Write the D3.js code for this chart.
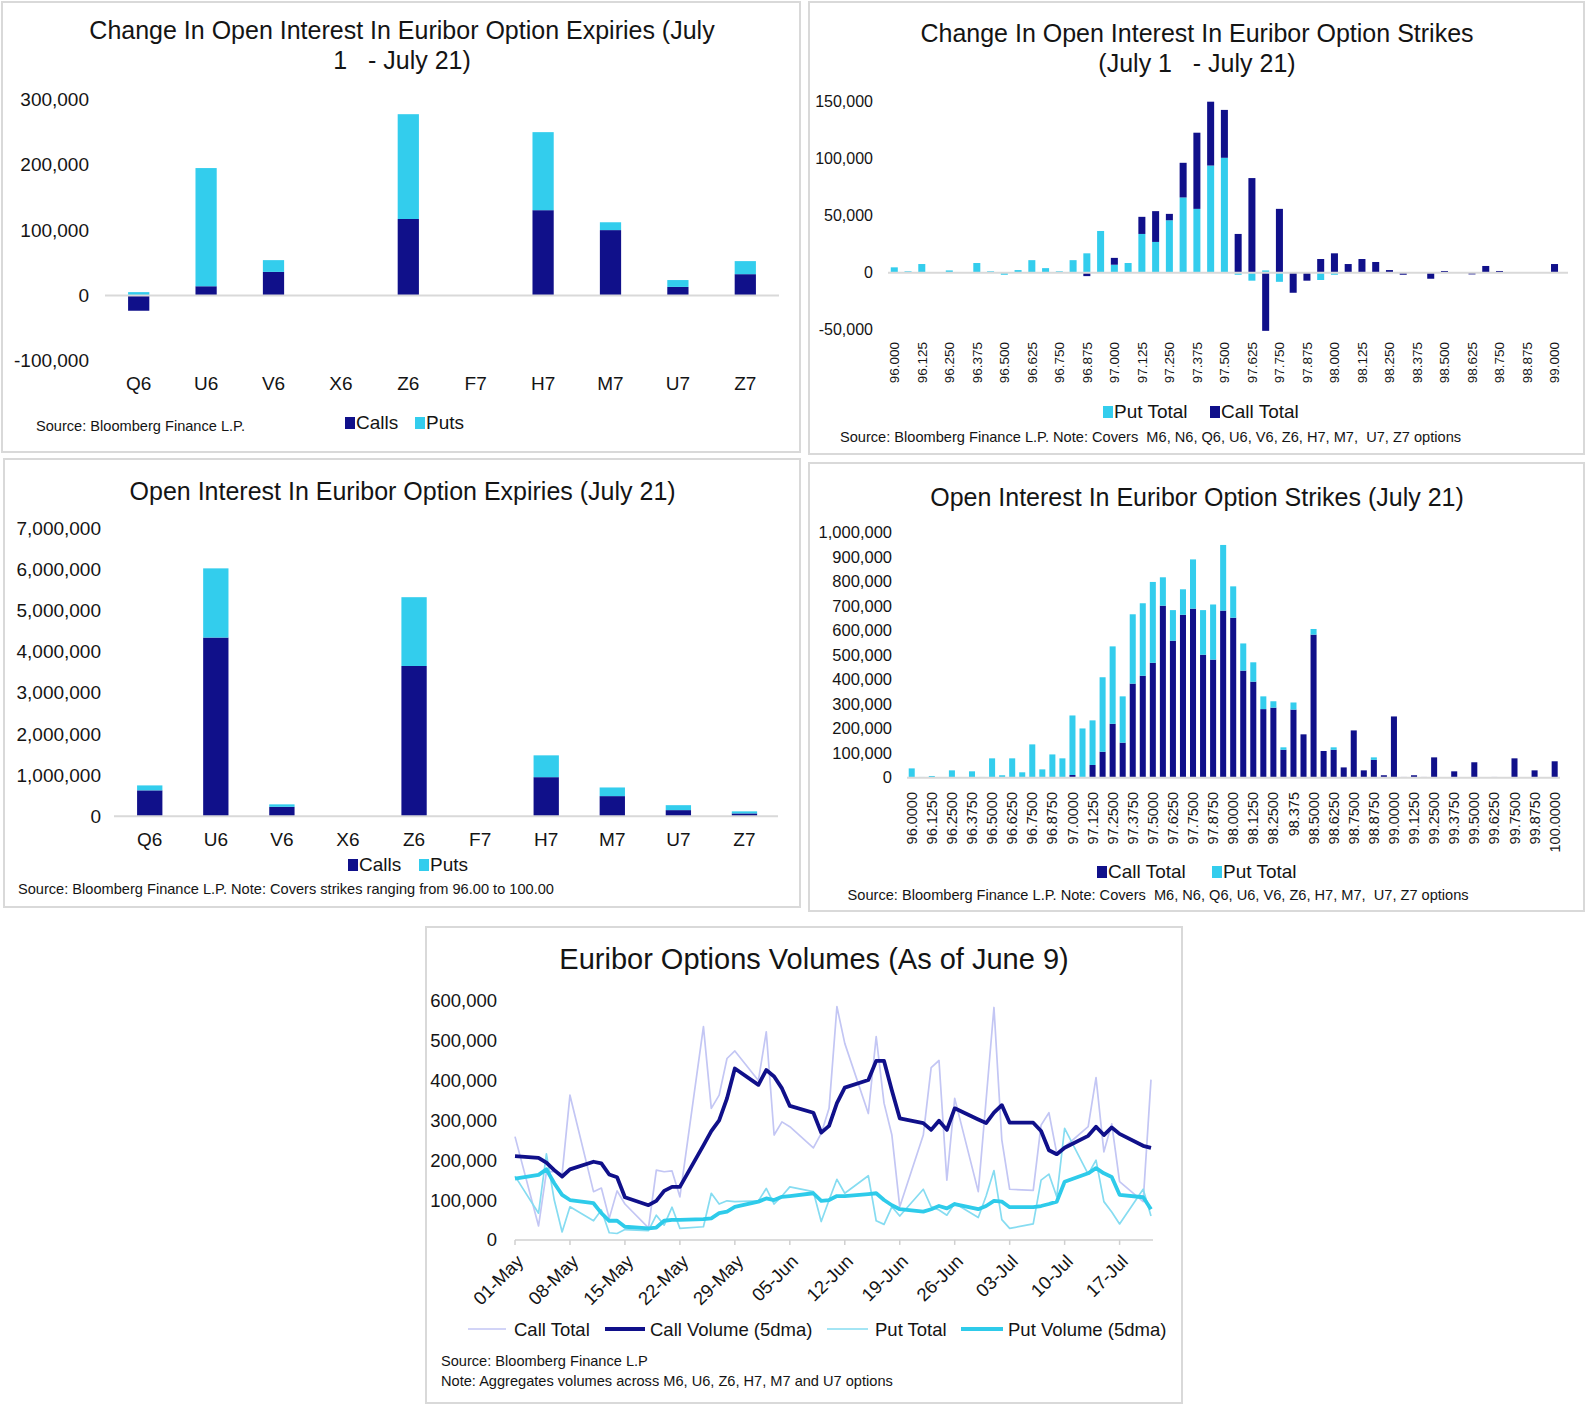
<!DOCTYPE html>
<html>
<head>
<meta charset="utf-8">
<script src="https://cdn.jsdelivr.net/npm/d3@7"></script>
<style>
  body { margin: 0; background: #fff; }
  svg { display: block; }
  text { font-family: "Liberation Sans", Arial, sans-serif; fill: #141414; white-space: pre; }
</style>
</head>
<body>
<svg width="1586" height="1404"></svg>
<script>
// ---- change in OI by expiry (Jul 1 - Jul 21)
var expiries = ['Q6', 'U6', 'V6', 'X6', 'Z6', 'F7', 'H7', 'M7', 'U7', 'Z7'];
var chgCalls = [-23500, 14000, 36000, 0, 117000, 0, 130500, 100000, 13000, 32500];
var chgPuts = [5000, 181000, 18000, 0, 160500, 0, 119500, 12000, 10500, 20000];
var chgTicks = [-100000, 0, 100000, 200000, 300000];

// ---- change in OI by strike (Jul 1 - Jul 21), strikes 96.0000 .. 99.0000 every 0.0625
var chgStrikes = d3.range(49).map(function (i) { return (96 + i * 0.0625).toFixed(4); });
var chgStrikePut = [4700, 1200, 7600, 0, 2000, 0, 8500, 1200, -1800, 2300, 11000, 4000, 1200, 11000, 17000,
  36600, 7000, 8500, 34000, 27000, 46000, 66000, 56000, 94000, 100800, -1800, -7000, 2000, -8000, 0, 0,
  -6400, -1800, 0, 0, 0, 0, 0, 0, 0, 0, 0, 0, 0, 0, 0, 0, 0, 0];
var chgStrikeCall = [0, 0, 0, 0, 0, 0, 0, 0, 0, 0, 0, 0, 0, 0, -3000, 0, 6000, 0, 15000, 27000, 5600, 30400,
  66800, 56000, 42000, 34000, 83000, -51000, 56000, -17600, -7000, 12000, 17000, 7600, 12000, 9400, 2300,
  -1800, 0, -5300, 1500, 0, -1500, 5900, 1500, 0, 0, 0, 7600];
var chgStrikeTicks = [-50000, 0, 50000, 100000, 150000];
var chgStrikeLabels = ['96.000', '96.125', '96.250', '96.375', '96.500', '96.625', '96.750', '96.875',
  '97.000', '97.125', '97.250', '97.375', '97.500', '97.625', '97.750', '97.875', '98.000', '98.125',
  '98.250', '98.375', '98.500', '98.625', '98.750', '98.875', '99.000'];

// ---- OI by expiry (Jul 21)
var oiCalls = [630000, 4340000, 230000, 0, 3650000, 0, 950000, 490000, 150000, 70000];
var oiPuts = [120000, 1680000, 60000, 0, 1670000, 0, 530000, 210000, 120000, 50000];
var oiTicks = [0, 1000000, 2000000, 3000000, 4000000, 5000000, 6000000, 7000000];

// ---- OI by strike (Jul 21), strikes 96.0000 .. 100.0000 every 0.0625
var oiStrikes = d3.range(65).map(function (i) { return (96 + i * 0.0625).toFixed(4); });
var oiStrikeCall = [0, 0, 0, 0, 0, 0, 0, 0, 0, 0, 0, 0, 0, 0, 0, 0, 11000, 3000, 52000, 106000, 220000,
  143000, 384000, 416000, 469000, 702000, 559000, 665000, 690000, 502000, 482000, 682000, 653000, 437000,
  392000, 280000, 286000, 114000, 278000, 177000, 584000, 109000, 114000, 42000, 193000, 30000, 73000,
  10000, 250000, 3000, 10000, 3000, 83000, 0, 26000, 0, 63000, 0, 3000, 0, 79000, 0, 30000, 0, 67000];
var oiStrikePut = [38000, 3000, 7000, 0, 30000, 0, 26000, 3000, 79000, 10000, 79000, 22000, 136000, 34000,
  95000, 79000, 243000, 198000, 182000, 304000, 316000, 189000, 283000, 296000, 330000, 116000, 125000,
  104000, 201000, 182000, 225000, 268000, 128000, 111000, 79000, 52000, 26000, 10000, 29000, 0, 23000, 0,
  10000, 0, 0, 0, 10000, 0, 0, 0, 0, 0, 0, 0, 0, 0, 0, 0, 0, 0, 0, 0, 0, 0, 0];
var oiStrikeTicks = d3.range(0, 1000001, 100000);
var oiStrikeLabels = ['96.0000', '96.1250', '96.2500', '96.3750', '96.5000', '96.6250', '96.7500', '96.8750',
  '97.0000', '97.1250', '97.2500', '97.3750', '97.5000', '97.6250', '97.7500', '97.8750', '98.0000',
  '98.1250', '98.2500', '98.375', '98.5000', '98.6250', '98.7500', '98.8750', '99.0000', '99.1250',
  '99.2500', '99.3750', '99.5000', '99.6250', '99.7500', '99.8750', '100.0000'];

// ---- daily option volumes (thousands)
var volDates = ['2026-05-01', '2026-05-04', '2026-05-05', '2026-05-06', '2026-05-07', '2026-05-08',
  '2026-05-11', '2026-05-12', '2026-05-13', '2026-05-14', '2026-05-15', '2026-05-18', '2026-05-19',
  '2026-05-20', '2026-05-21', '2026-05-22', '2026-05-25', '2026-05-26', '2026-05-27', '2026-05-28',
  '2026-05-29', '2026-06-01', '2026-06-02', '2026-06-03', '2026-06-04', '2026-06-05', '2026-06-08',
  '2026-06-09', '2026-06-10', '2026-06-11', '2026-06-12', '2026-06-15', '2026-06-16', '2026-06-17',
  '2026-06-18', '2026-06-19', '2026-06-22', '2026-06-23', '2026-06-24', '2026-06-25', '2026-06-26',
  '2026-06-29', '2026-06-30', '2026-07-01', '2026-07-02', '2026-07-03', '2026-07-06', '2026-07-07',
  '2026-07-08', '2026-07-09', '2026-07-10', '2026-07-13', '2026-07-14', '2026-07-15', '2026-07-16',
  '2026-07-17', '2026-07-20', '2026-07-21'];
var callTotalK = [259, 35, 170, 172, 165, 363, 121, 130, 54, 123, 90, 30, 175, 171, 173, 108, 535, 330, 363,
  455, 474, 400, 522, 263, 296, 284, 231, 267, 330, 585, 493, 317, 510, 343, 263, 83, 263, 432, 450, 150,
  355, 121, 351, 583, 251, 127, 124, 288, 319, 217, 233, 284, 407, 221, 291, 146, 96, 402];
var callAvgK = [210, 206, 194, 175, 159, 177, 196, 192, 164, 157, 107, 87, 98, 123, 133, 133, 237, 273, 300,
  355, 430, 389, 426, 410, 380, 336, 319, 269, 286, 343, 382, 401, 449, 449, 375, 305, 293, 276, 299, 276,
  330, 302, 293, 319, 338, 294, 294, 273, 225, 215, 231, 261, 284, 263, 282, 266, 236, 231];
var putTotalK = [160, 67, 216, 100, 20, 83, 48, 75, 18, 16, 26, 23, 62, 37, 82, 29, 33, 117, 90, 98, 96, 98,
  129, 90, 110, 133, 121, 46, 100, 152, 117, 161, 48, 39, 83, 60, 127, 83, 75, 62, 92, 56, 110, 174, 51, 29,
  40, 150, 165, 108, 280, 165, 200, 96, 70, 40, 127, 60];
var putAvgK = [154, 163, 177, 142, 113, 100, 92, 67, 48, 48, 33, 29, 31, 48, 50, 50, 52, 54, 67, 71, 83, 96,
  104, 100, 108, 110, 117, 98, 100, 110, 110, 115, 117, 100, 87, 77, 71, 77, 85, 79, 90, 77, 85, 98, 96, 82,
  82, 85, 90, 96, 146, 167, 180, 167, 158, 113, 107, 77];
var volTicks = [0, 100000, 200000, 300000, 400000, 500000, 600000];

var NAVY = '#10108a', CYAN = '#33cded';
var CALL_LIGHT = '#c3c6f4', PUT_LIGHT = '#86dcf1';
var svg = d3.select('svg');
var fmt = d3.formatLocale({ decimal: '.', thousands: ',', grouping: [3], currency: ['', ''], minus: '-' }).format(',');

function frame(x, y, w, h) {
  svg.append('rect').attr('x', x).attr('y', y).attr('width', w).attr('height', h)
    .attr('fill', '#fff').attr('stroke', '#d9d9d9').attr('stroke-width', 2);
}

function title(lines, cx, y, size) {
  var t = svg.append('text').attr('text-anchor', 'middle').attr('font-size', size);
  lines.forEach(function (s, i) {
    t.append('tspan').attr('x', cx).attr('y', y + i * 30).text(s);
  });
}

function note(lines, x, y, size) {
  lines.forEach(function (s, i) {
    svg.append('text').attr('x', x).attr('y', y + i * 20).attr('font-size', size || 14.6).text(s);
  });
}

function squareLegend(items, y) {
  items.forEach(function (it) {
    svg.append('rect').attr('x', it.x).attr('y', y - 12).attr('width', 10).attr('height', 12).attr('fill', it.color);
    svg.append('text').attr('x', it.x + 11).attr('y', y).attr('font-size', 19).text(it.label);
  });
}

function barPanel(o) {
  var x = d3.scaleBand().domain(o.cats).range(o.xRange).paddingInner(o.pad).paddingOuter(o.pad / 2);
  var y = d3.scaleLinear().domain(o.yDomain).range(o.yRange);
  var rows = o.cats.map(function (c, i) {
    var r = { cat: c };
    o.keys.forEach(function (k, j) { r[k] = o.series[j][i]; });
    return r;
  });
  var layers = d3.stack().keys(o.keys).offset(d3.stackOffsetDiverging)(rows);
  var g = svg.append('g');

  g.selectAll('text.ytick').data(o.yTicks).join('text').attr('class', 'ytick')
    .attr('x', o.yLabelX).attr('y', function (d) { return y(d); }).attr('dy', '0.35em')
    .attr('text-anchor', 'end').attr('font-size', o.yFont).text(fmt);

  g.selectAll('g.layer').data(layers).join('g').attr('class', 'layer')
    .attr('fill', function (d, i) { return o.colors[i]; })
    .selectAll('rect').data(function (d) { return d; }).join('rect')
    .attr('x', function (d) { return x(d.data.cat); })
    .attr('width', x.bandwidth())
    .attr('y', function (d) { return y(Math.max(d[0], d[1])); })
    .attr('height', function (d) { return Math.abs(y(d[0]) - y(d[1])); });

  g.append('line').attr('x1', o.axisX[0]).attr('x2', o.axisX[1]).attr('y1', y(0)).attr('y2', y(0))
    .attr('stroke', '#d9d9d9').attr('stroke-width', 2);

  if (o.rotLabels) {
    g.selectAll('text.xtick').data(o.rotLabels).join('text').attr('class', 'xtick')
      .attr('transform', function (d, i) {
        return 'translate(' + (x(o.cats[i * 2]) + x.bandwidth() / 2) + ',' + o.xLabelY + ') rotate(-90)';
      })
      .attr('dy', '0.35em').attr('text-anchor', 'end').attr('font-size', o.xFont).text(function (d) { return d; });
  } else {
    g.selectAll('text.xtick').data(o.cats).join('text').attr('class', 'xtick')
      .attr('x', function (d) { return x(d) + x.bandwidth() / 2; }).attr('y', o.xLabelY)
      .attr('text-anchor', 'middle').attr('font-size', o.xFont).text(function (d) { return d; });
  }
}

// ---------- panel 1
frame(2, 2, 798, 450);
title(['Change In Open Interest In Euribor Option Expiries (July', '1   - July 21)'], 402, 39, 25);
barPanel({
  cats: expiries, keys: ['calls', 'puts'], series: [chgCalls, chgPuts], colors: [NAVY, CYAN],
  xRange: [105, 779], pad: 0.685, yDomain: [-100000, 300000], yRange: [360.7, 99.5],
  yTicks: chgTicks, yLabelX: 89, yFont: 19, axisX: [105, 779], xLabelY: 389.5, xFont: 19
});
squareLegend([{ x: 345, label: 'Calls', color: NAVY }, { x: 415, label: 'Puts', color: CYAN }], 429);
note(['Source: Bloomberg Finance L.P.'], 36, 431);

// ---------- panel 2
frame(809, 2, 775, 452);
title(['Change In Open Interest In Euribor Option Strikes', '(July 1   - July 21)'], 1197, 42, 25);
barPanel({
  cats: chgStrikes, keys: ['put', 'call'], series: [chgStrikePut, chgStrikeCall], colors: [CYAN, NAVY],
  xRange: [887.4, 1561.4], pad: 0.49, yDomain: [-50000, 150000], yRange: [329.7, 101.7],
  yTicks: chgStrikeTicks, yLabelX: 873, yFont: 16, axisX: [888, 1568],
  rotLabels: chgStrikeLabels, xLabelY: 342, xFont: 13.5
});
squareLegend([{ x: 1103, label: 'Put Total', color: CYAN }, { x: 1210, label: 'Call Total', color: NAVY }], 418);
note(['Source: Bloomberg Finance L.P. Note: Covers  M6, N6, Q6, U6, V6, Z6, H7, M7,  U7, Z7 options'], 840, 442);

// ---------- panel 3
frame(4, 459, 796, 448);
title(['Open Interest In Euribor Option Expiries (July 21)'], 402.6, 499.5, 25);
barPanel({
  cats: expiries, keys: ['calls', 'puts'], series: [oiCalls, oiPuts], colors: [NAVY, CYAN],
  xRange: [116.7, 777.5], pad: 0.617, yDomain: [0, 7000000], yRange: [816.3, 528],
  yTicks: oiTicks, yLabelX: 101, yFont: 19, axisX: [114, 778], xLabelY: 845.5, xFont: 19
});
squareLegend([{ x: 348, label: 'Calls', color: NAVY }, { x: 419, label: 'Puts', color: CYAN }], 871);
note(['Source: Bloomberg Finance L.P. Note: Covers strikes ranging from 96.00 to 100.00'], 18, 894);

// ---------- panel 4
frame(809, 463, 775, 448);
title(['Open Interest In Euribor Option Strikes (July 21)'], 1197, 505.5, 25);
barPanel({
  cats: oiStrikes, keys: ['call', 'put'], series: [oiStrikeCall, oiStrikePut], colors: [NAVY, CYAN],
  xRange: [906.7, 1559.7], pad: 0.4, yDomain: [0, 1000000], yRange: [777.7, 532.7],
  yTicks: oiStrikeTicks, yLabelX: 892, yFont: 16.5, axisX: [907, 1560],
  rotLabels: oiStrikeLabels, xLabelY: 792, xFont: 14.5
});
squareLegend([{ x: 1097, label: 'Call Total', color: NAVY }, { x: 1212, label: 'Put Total', color: CYAN }], 878);
note(['Source: Bloomberg Finance L.P. Note: Covers  M6, N6, Q6, U6, V6, Z6, H7, M7,  U7, Z7 options'], 847.6, 900);

// ---------- panel 5
frame(426, 927, 756, 476);
title(['Euribor Options Volumes (As of June 9)'], 814, 969, 29);
(function () {
  var parse = d3.timeParse('%Y-%m-%d');
  var dates = volDates.map(parse);
  var x = d3.scaleTime().domain([parse('2026-05-01'), parse('2026-07-21')]).range([515, 1151]);
  var y = d3.scaleLinear().domain([0, 600000]).range([1239.9, 1000.7]);
  var g = svg.append('g');

  g.selectAll('text.ytick').data(volTicks).join('text').attr('class', 'ytick')
    .attr('x', 497).attr('y', function (d) { return y(d); }).attr('dy', '0.35em')
    .attr('text-anchor', 'end').attr('font-size', 18.5).text(fmt);

  var ticks = d3.timeFriday.range(parse('2026-05-01'), parse('2026-07-21'));
  g.append('line').attr('x1', 515).attr('x2', 1153).attr('y1', y(0)).attr('y2', y(0))
    .attr('stroke', '#d0d0d0').attr('stroke-width', 1.5);
  g.selectAll('line.tk').data(ticks).join('line').attr('class', 'tk')
    .attr('x1', function (d) { return x(d); }).attr('x2', function (d) { return x(d); })
    .attr('y1', y(0)).attr('y2', y(0) + 5).attr('stroke', '#d0d0d0').attr('stroke-width', 1.5);
  g.selectAll('text.xtick').data(ticks).join('text').attr('class', 'xtick')
    .attr('transform', function (d) { return 'translate(' + (x(d) + 5) + ',' + 1258 + ') rotate(-45)'; })
    .attr('dy', '0.35em').attr('text-anchor', 'end').attr('font-size', 18.5)
    .text(d3.timeFormat('%d-%b'));

  var series = [
    { vals: callTotalK, color: CALL_LIGHT, w: 1.7 },
    { vals: putTotalK, color: PUT_LIGHT, w: 1.7 },
    { vals: callAvgK, color: NAVY, w: 3.8 },
    { vals: putAvgK, color: '#2ecbea', w: 3.8 }
  ];
  var line = d3.line().x(function (d) { return x(d[0]); }).y(function (d) { return y(d[1] * 1000); });
  series.forEach(function (s) {
    g.append('path').datum(dates.map(function (d, i) { return [d, s.vals[i]]; }))
      .attr('d', line).attr('fill', 'none').attr('stroke', s.color).attr('stroke-width', s.w)
      .attr('stroke-linejoin', 'round');
  });

  var leg = [
    { x1: 468, x2: 506, tx: 514, label: 'Call Total', color: CALL_LIGHT, w: 1.7 },
    { x1: 605, x2: 645, tx: 650, label: 'Call Volume (5dma)', color: NAVY, w: 3.8 },
    { x1: 827, x2: 868, tx: 875, label: 'Put Total', color: PUT_LIGHT, w: 1.7 },
    { x1: 961, x2: 1003, tx: 1008, label: 'Put Volume (5dma)', color: '#2ecbea', w: 3.8 }
  ];
  leg.forEach(function (l) {
    svg.append('line').attr('x1', l.x1).attr('x2', l.x2).attr('y1', 1329).attr('y2', 1329)
      .attr('stroke', l.color).attr('stroke-width', l.w);
    svg.append('text').attr('x', l.tx).attr('y', 1335.5).attr('font-size', 18.5).text(l.label);
  });
})();
note(['Source: Bloomberg Finance L.P', 'Note: Aggregates volumes across M6, U6, Z6, H7, M7 and U7 options'], 441, 1366);
</script>
</body>
</html>
